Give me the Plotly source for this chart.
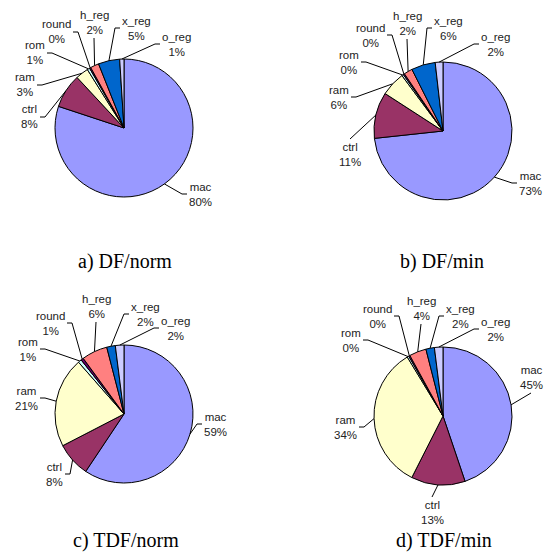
import math
import plotly.graph_objects as go

categories = ["mac", "ctrl", "ram", "rom", "round", "h_reg", "x_reg", "o_reg"]
colors = ["#9999FF", "#993366", "#FFFFCC", "#CCFFFF", "#660066", "#FF8080", "#0066CC", "#CCCCFF"]

# values (percent of total)
df_norm = [80, 8, 3, 0.6, 0.3, 2, 5, 1]
df_min = [73, 10.8, 5.7, 0.4, 0.3, 2, 5.6, 1.8]
tdf_norm = [59, 8, 21, 0.8, 0.6, 6, 2, 2]
tdf_min = [45, 12.7, 34, 0.4, 0.3, 4, 2, 2]

titles = ["a) DF/norm", "b) DF/min", "c) TDF/norm", "d) TDF/min"]
series = [df_norm, df_min, tdf_norm, tdf_min]

# ---- layout (pixels) ----
W, H = 548, 553
R = 69
centers = [(124, 128), (443, 131), (124, 414), (443, 416)]
caption_pos = [(125, 261), (442, 261), (126, 540), (444, 540)]

# label leader attach points relative to pie centre, and on which side the text sits
label_dx = [
    [63, -84, -87, -77, -51, -30, -4, 36],
    [74, -93, -92, -82, -56, -36, -11, 36],
    [78, -59, -84, -84, -57, -28, 5, 35],
    [88, -11, -84, -80, -49, -22, 1, 36],
]
label_dy = [
    [66, -11, -43, -75, -96, -90, -100, -84],
    [52, 8, -34, -69, -96, -92, -103, -87],
    [10, 60, -16, -65, -91, -92, -100, -86],
    [-23, 81, 11, -76, -100, -92, -100, -87],
]
label_side = [
    ["R", "L", "L", "L", "L", "A", "R", "R"],
    ["R", "B", "L", "L", "L", "A", "R", "R"],
    ["R", "L", "L", "L", "L", "A", "R", "R"],
    ["A", "B", "L", "L", "L", "A", "R", "R"],
]

LABEL_FONT = dict(family="Liberation Sans, Arial", size=11.5, color="#222")


def px(x):
    return x / W


def py(y):
    return 1 - y / H


fig = go.Figure()
shapes = []
annotations = []

for k, vals in enumerate(series):
    cx, cy = centers[k]
    fig.add_trace(go.Pie(
        labels=categories, values=vals, sort=False, direction="clockwise", rotation=0,
        marker=dict(colors=colors, line=dict(color="black", width=1)),
        textinfo="none",
        domain=dict(x=[px(cx - R), px(cx + R)], y=[py(cy + R), py(cy - R)]),
        showlegend=False, hoverinfo="label+percent",
    ))
    total = sum(vals)
    cum = 0.0
    for i, v in enumerate(vals):
        mid = (cum + v / 2) / total * 2 * math.pi
        cum += v
        pxx = cx + R * math.sin(mid)
        pyy = cy - R * math.cos(mid)
        ax = cx + label_dx[k][i]
        ay = cy + label_dy[k][i]
        side = label_side[k][i]
        pct = round(100 * v / total)
        text = f"{categories[i]}<br>{pct}%"
        if side in ("L", "R"):
            tick = 5 if side == "L" else -5
            ex = ax + tick
            path = f"M {px(pxx)},{py(pyy)} L {px(ex)},{py(ay)} L {px(ax)},{py(ay)}"
            xanchor = "right" if side == "L" else "left"
            annotations.append(dict(text=text, x=px(ax), y=py(ay), xref="paper", yref="paper",
                                    showarrow=False, xanchor=xanchor, yanchor="middle",
                                    xshift=(-1 if side == "L" else 1),
                                    align="center", font=LABEL_FONT, borderpad=0))
        else:
            path = f"M {px(pxx)},{py(pyy)} L {px(ax)},{py(ay)}"
            yanchor = "bottom" if side == "A" else "top"
            annotations.append(dict(text=text, x=px(ax), y=py(ay), xref="paper", yref="paper",
                                    showarrow=False, xanchor="center", yanchor=yanchor,
                                    yshift=(1 if side == "A" else -1),
                                    align="center", font=LABEL_FONT, borderpad=0))
        shapes.append(dict(type="path", path=path, xref="paper", yref="paper",
                           line=dict(color="black", width=1)))

for t, (x, y) in zip(titles, caption_pos):
    annotations.append(dict(text=t, x=px(x), y=py(y), xref="paper", yref="paper",
                            showarrow=False, xanchor="center", yanchor="middle",
                            font=dict(family="Liberation Serif, Times New Roman", size=20, color="black")))

fig.update_layout(width=W, height=H, margin=dict(l=0, r=0, t=0, b=0),
                  paper_bgcolor="white", plot_bgcolor="white",
                  shapes=shapes, annotations=annotations)
fig.write_html("out.html", config={"displayModeBar": False},
               post_script="document.body.style.margin='0';document.body.style.overflow='hidden';")
